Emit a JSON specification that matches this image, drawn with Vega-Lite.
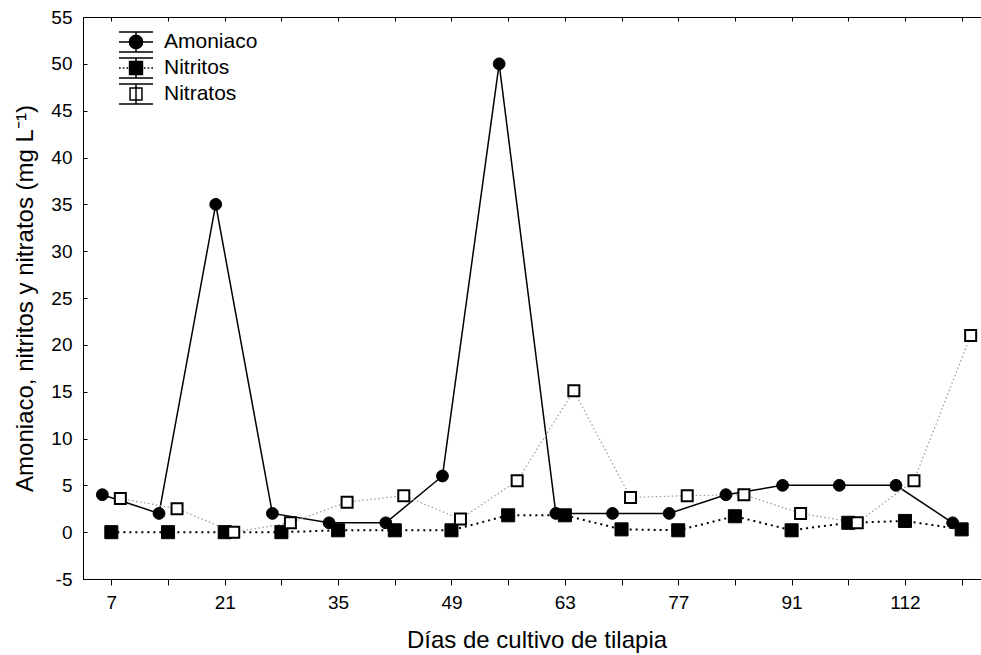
{
  "$schema": "https://vega.github.io/schema/vega-lite/v6.json",
  "autosize": "none",
  "width": 907,
  "height": 562,
  "padding": {"left": 83, "top": 17, "right": 0, "bottom": 76},
  "background": "white",
  "config": {
    "view": {"stroke": "black", "strokeWidth": 1},
    "axis": {
      "labelFont": "Liberation Sans",
      "titleFont": "Liberation Sans",
      "labelColor": "black",
      "titleColor": "black",
      "domainColor": "black",
      "tickColor": "black",
      "grid": false,
      "titleFontWeight": "normal"
    },
    "legend": {"labelFont": "Liberation Sans"}
  },
  "data": {
    "values": [
      {"dia": 7, "serie": "Amoniaco", "valor": 4},
      {"dia": 14, "serie": "Amoniaco", "valor": 2},
      {"dia": 21, "serie": "Amoniaco", "valor": 35},
      {"dia": 28, "serie": "Amoniaco", "valor": 2},
      {"dia": 35, "serie": "Amoniaco", "valor": 1},
      {"dia": 42, "serie": "Amoniaco", "valor": 1},
      {"dia": 49, "serie": "Amoniaco", "valor": 6},
      {"dia": 56, "serie": "Amoniaco", "valor": 50},
      {"dia": 63, "serie": "Amoniaco", "valor": 2},
      {"dia": 70, "serie": "Amoniaco", "valor": 2},
      {"dia": 77, "serie": "Amoniaco", "valor": 2},
      {"dia": 84, "serie": "Amoniaco", "valor": 4},
      {"dia": 91, "serie": "Amoniaco", "valor": 5},
      {"dia": 98, "serie": "Amoniaco", "valor": 5},
      {"dia": 112, "serie": "Amoniaco", "valor": 5},
      {"dia": 119, "serie": "Amoniaco", "valor": 1},
      {"dia": 7, "serie": "Nitritos", "valor": 0},
      {"dia": 14, "serie": "Nitritos", "valor": 0},
      {"dia": 21, "serie": "Nitritos", "valor": 0},
      {"dia": 28, "serie": "Nitritos", "valor": 0},
      {"dia": 35, "serie": "Nitritos", "valor": 0.2},
      {"dia": 42, "serie": "Nitritos", "valor": 0.2},
      {"dia": 49, "serie": "Nitritos", "valor": 0.2},
      {"dia": 56, "serie": "Nitritos", "valor": 1.8},
      {"dia": 63, "serie": "Nitritos", "valor": 1.8},
      {"dia": 70, "serie": "Nitritos", "valor": 0.3},
      {"dia": 77, "serie": "Nitritos", "valor": 0.2},
      {"dia": 84, "serie": "Nitritos", "valor": 1.7},
      {"dia": 91, "serie": "Nitritos", "valor": 0.2},
      {"dia": 98, "serie": "Nitritos", "valor": 1.0},
      {"dia": 112, "serie": "Nitritos", "valor": 1.2},
      {"dia": 119, "serie": "Nitritos", "valor": 0.3},
      {"dia": 7, "serie": "Nitratos", "valor": 3.6},
      {"dia": 14, "serie": "Nitratos", "valor": 2.5},
      {"dia": 21, "serie": "Nitratos", "valor": 0},
      {"dia": 28, "serie": "Nitratos", "valor": 1.0},
      {"dia": 35, "serie": "Nitratos", "valor": 3.2},
      {"dia": 42, "serie": "Nitratos", "valor": 3.9},
      {"dia": 49, "serie": "Nitratos", "valor": 1.4},
      {"dia": 56, "serie": "Nitratos", "valor": 5.5},
      {"dia": 63, "serie": "Nitratos", "valor": 15.1},
      {"dia": 70, "serie": "Nitratos", "valor": 3.7},
      {"dia": 77, "serie": "Nitratos", "valor": 3.9},
      {"dia": 84, "serie": "Nitratos", "valor": 4.0},
      {"dia": 91, "serie": "Nitratos", "valor": 2.0},
      {"dia": 98, "serie": "Nitratos", "valor": 1.0},
      {"dia": 112, "serie": "Nitratos", "valor": 5.5},
      {"dia": 119, "serie": "Nitratos", "valor": 21.0}
    ]
  },
  "resolve": {"axis": {"x": "independent"}},
  "layer": [
    {
      "transform": [{"filter": "datum.serie === 'Amoniaco'"}],
      "mark": {"type": "line", "color": "black", "strokeWidth": 1.5, "xOffset": -9},
      "encoding": {
        "x": {
          "field": "dia", "type": "ordinal",
          "scale": {"type": "point", "padding": 0.5},
          "axis": {
            "orient": "bottom",
            "title": "Días de cultivo de tilapia",
            "titleFontSize": 24,
            "titleBaseline": "alphabetic",
            "titleY": 68,
            "labelFontSize": 19,
            "labelAngle": 0,
            "labelBaseline": "alphabetic",
            "tickSize": 6,
            "labelPadding": 23,
            "labelExpr": "indexof([7,21,35,49,63,77,91,112], datum.value) >= 0 ? datum.label : ''"
          }
        },
        "y": {
          "field": "valor", "type": "quantitative",
          "scale": {"domain": [-5, 55], "nice": false, "zero": false},
          "axis": {
            "title": "Amoniaco, nitritos y nitratos (mg L⁻¹)",
            "titleFontSize": 24,
            "titleBaseline": "alphabetic",
            "titleX": -51,
            "values": [-5, 0, 5, 10, 15, 20, 25, 30, 35, 40, 45, 50, 55],
            "labelExpr": "datum.value < 0 ? '-' + abs(datum.value) : datum.label",
            "labelFontSize": 19,
            "tickSize": -4,
            "labelPadding": 15
          }
        }
      }
    },
    {
      "transform": [{"filter": "datum.serie === 'Nitritos'"}],
      "mark": {"type": "line", "color": "black", "strokeWidth": 2, "strokeDash": [2, 4]},
      "encoding": {
        "x": {
          "field": "dia", "type": "ordinal",
          "axis": {"orient": "top", "labels": false, "title": null, "tickSize": -4}
        },
        "y": {"field": "valor", "type": "quantitative"}
      }
    },
    {
      "transform": [{"filter": "datum.serie === 'Nitratos'"}],
      "mark": {"type": "line", "color": "#9a9a9a", "strokeWidth": 1.2, "strokeDash": [1.5, 2.5], "xOffset": 9},
      "encoding": {
        "x": {"field": "dia", "type": "ordinal", "axis": null},
        "y": {"field": "valor", "type": "quantitative"}
      }
    },
    {
      "transform": [{"filter": "datum.serie === 'Amoniaco'"}],
      "mark": {"type": "point", "shape": "circle", "filled": true, "fill": "black", "stroke": "black", "strokeWidth": 1, "size": 140, "opacity": 1, "xOffset": -9},
      "encoding": {
        "x": {"field": "dia", "type": "ordinal", "axis": null},
        "y": {"field": "valor", "type": "quantitative"}
      }
    },
    {
      "transform": [{"filter": "datum.serie === 'Nitritos'"}],
      "mark": {"type": "point", "shape": "square", "filled": true, "fill": "black", "stroke": "black", "strokeWidth": 1, "size": 170, "opacity": 1},
      "encoding": {
        "x": {"field": "dia", "type": "ordinal", "axis": null},
        "y": {"field": "valor", "type": "quantitative"}
      }
    },
    {
      "transform": [{"filter": "datum.serie === 'Nitratos'"}],
      "mark": {"type": "point", "shape": "square", "filled": true, "fill": "white", "stroke": "black", "strokeWidth": 2, "size": 121, "opacity": 1, "xOffset": 9},
      "encoding": {
        "x": {"field": "dia", "type": "ordinal", "axis": null},
        "y": {"field": "valor", "type": "quantitative"}
      }
    },
    {
      "transform": [{"filter": "datum.dia === 7"}],
      "mark": {"type": "point", "filled": true, "size": 0, "strokeWidth": 1.5, "opacity": 1},
      "encoding": {
        "x": {"field": "dia", "type": "ordinal", "axis": null},
        "y": {"field": "valor", "type": "quantitative"},
        "stroke": {
          "field": "serie", "type": "nominal",
          "scale": {"domain": ["Amoniaco", "Nitritos", "Nitratos"], "range": ["black", "black", "black"]}
        },
        "shape": {
          "field": "serie", "type": "nominal",
          "scale": {
            "domain": ["Amoniaco", "Nitritos", "Nitratos"],
            "range": [
              "M-1,-0.59L1,-0.59M0,-0.59L0,0.59M-1,0.59L1,0.59M-1,0L1,0M-0.39,0A0.39,0.39,0,1,0,0.39,0A0.39,0.39,0,1,0,-0.39,0Z",
              "M-1,-0.59L1,-0.59M0,-0.59L0,0.59M-1,0.59L1,0.59M-1,0L-0.9,0M-0.78,0L-0.68,0M-0.56,0L-0.46,0M0.46,0L0.56,0M0.68,0L0.78,0M0.9,0L1,0M-0.38,-0.38L0.38,-0.38L0.38,0.38L-0.38,0.38Z",
              "M-1,-0.59L1,-0.59M0,-0.59L0,0.59M-1,0.59L1,0.59M-0.35,-0.35L0.35,-0.35L0.35,0.35L-0.35,0.35Z"
            ]
          },
          "legend": {
            "title": null,
            "orient": "none",
            "legendX": 35,
            "legendY": 12,
            "padding": 0,
            "rowPadding": 0,
            "clipHeight": 26,
            "symbolSize": 1156,
            "symbolStrokeWidth": 1.5,
            "symbolOpacity": 1,
            "labelFontSize": 21,
            "labelOffset": 10,
            "labelColor": "black"
          }
        },
        "fill": {
          "field": "serie", "type": "nominal",
          "scale": {"domain": ["Amoniaco", "Nitritos", "Nitratos"], "range": ["black", "black", "white"]}
        }
      }
    }
  ]
}
